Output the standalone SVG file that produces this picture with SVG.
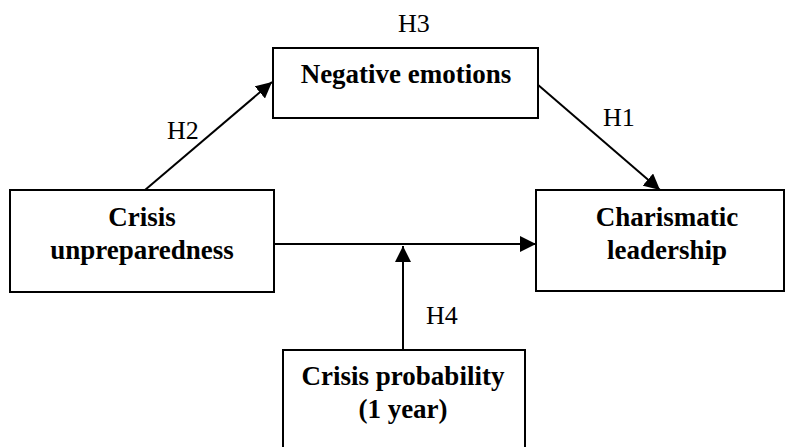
<svg xmlns="http://www.w3.org/2000/svg" width="787" height="447" viewBox="0 0 787 447">
  <defs>
    <marker id="arrow" markerUnits="userSpaceOnUse" markerWidth="17" markerHeight="16" refX="16" refY="8" orient="auto">
      <path d="M0,0 L16,8 L0,16 z" fill="#000"/>
    </marker>
    <style>
      .box { fill: #fff; stroke: #000; stroke-width: 2; }
      .nt { font-family: "Liberation Serif", "Times New Roman", serif; font-size: 27px; font-weight: bold; text-anchor: middle; fill: #000; }
      .lbl { font-family: "Liberation Serif", "Times New Roman", serif; font-size: 26px; fill: #000; }
      .conn { stroke: #000; stroke-width: 2; fill: none; marker-end: url(#arrow); }
    </style>
  </defs>
  <rect width="787" height="447" fill="#fff"/>
  <g id="connectors">
    <path class="conn" d="M145,190 L272,82"/>
    <path class="conn" d="M537,84 L660,190"/>
    <path class="conn" d="M274,244 L536,244"/>
    <path class="conn" d="M403,350 L403,246"/>
  </g>
  <g id="labels">
    <text class="lbl" x="398" y="32">H3</text>
    <text class="lbl" x="167" y="139">H2</text>
    <text class="lbl" x="603" y="126">H1</text>
    <text class="lbl" x="426" y="324">H4</text>
  </g>
  <g id="negative-emotions">
    <rect class="box" x="273" y="48" width="265" height="70"/>
    <text class="nt" x="406" y="83">Negative emotions</text>
  </g>
  <g id="crisis-unpreparedness">
    <rect class="box" x="10" y="190" width="264" height="102"/>
    <text class="nt" x="142" y="226">Crisis</text>
    <text class="nt" x="142" y="259">unpreparedness</text>
  </g>
  <g id="charismatic-leadership">
    <rect class="box" x="536" y="190" width="248" height="101"/>
    <text class="nt" x="667" y="226">Charismatic</text>
    <text class="nt" x="667" y="259">leadership</text>
  </g>
  <g id="crisis-probability">
    <rect class="box" x="283" y="350" width="242" height="110"/>
    <text class="nt" x="403" y="385">Crisis probability</text>
    <text class="nt" x="403" y="418">(1 year)</text>
  </g>
</svg>
